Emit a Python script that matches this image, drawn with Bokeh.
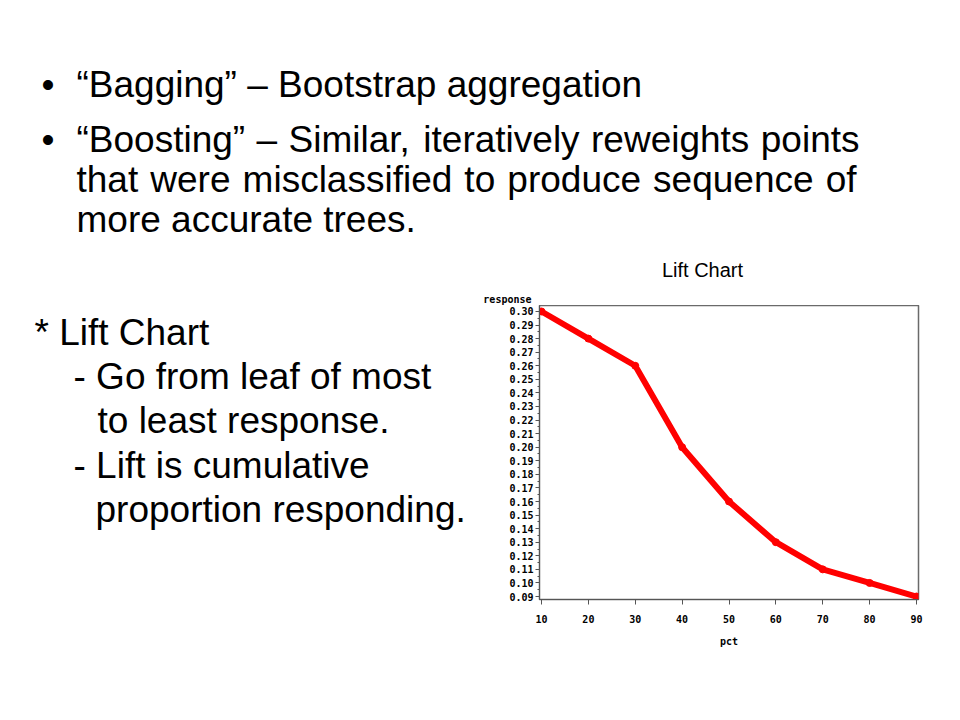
from bokeh.plotting import figure
from bokeh.models import Range1d, FixedTicker, PrintfTickFormatter, Label
from bokeh.layouts import column, row
from bokeh.embed import file_html
from bokeh.resources import INLINE

# ---- data ----
pct = [10, 20, 30, 40, 50, 60, 70, 80, 90]
response = [0.30, 0.28, 0.26, 0.20, 0.16, 0.13, 0.11, 0.10, 0.09]
x_ticks = [10, 20, 30, 40, 50, 60, 70, 80, 90]
y_ticks = [0.09, 0.10, 0.11, 0.12, 0.13, 0.14, 0.15, 0.16, 0.17, 0.18, 0.19,
           0.20, 0.21, 0.22, 0.23, 0.24, 0.25, 0.26, 0.27, 0.28, 0.29, 0.30]
y_minor = [round(v + 0.005, 3) for v in y_ticks[:-1]]

bullets = ["\u201cBagging\u201d \u2013 Bootstrap aggregation",
           "\u201cBoosting\u201d \u2013 Similar, iteratively reweights points"]
bullet_cont = ["that were misclassified to produce sequence of",
               "more accurate trees."]
side_lines = ["* Lift Chart", "- Go from leaf of most", "to least response.",
              "- Lift is cumulative", "proportion responding."]
chart_title = "Lift Chart"
y_label = "response"
x_label = "pct"

SANS = "Liberation Sans"
MONO = "DejaVu Sans Mono"

# Arial / Liberation Sans advance widths (per 1000 em) for justification
AW = {" ": 278, "\u201c": 333, "\u201d": 333, "\u2013": 556, ",": 278, ".": 278,
      "B": 667, "S": 667, "a": 556, "b": 556, "c": 500, "d": 556, "e": 556,
      "f": 278, "g": 556, "h": 556, "i": 222, "l": 222, "m": 833, "n": 556,
      "o": 556, "p": 556, "q": 556, "r": 333, "s": 500, "t": 278, "u": 556,
      "v": 500, "w": 722, "y": 500}

W, H = 944, 704
SPLIT_Y = 305   # top text panel height
SPLIT_X = 480   # width of the side-note panel
FRAME_BOTTOM = 599


def text_panel(w, h, y0, y1, bottom_border=0):
    f = figure(width=w, height=h, output_backend="svg", toolbar_location=None,
               x_axis_type=None, y_axis_type=None,
               x_range=Range1d(0, w), y_range=Range1d(y1, y0),
               min_border=0, min_border_bottom=bottom_border)
    f.outline_line_color = None
    f.grid.visible = False
    f.background_fill_color = "white"
    f.border_fill_color = "white"
    return f


def lab(f, text, px, base, size, font=SANS, style="normal", align="left"):
    # bokeh draws this baseline about 0.35em lower than the given y
    y = base - 0.35 * size
    f.add_layout(Label(x=px, y=y, text=text, text_font=font,
                       text_font_size=f"{size}px", text_font_style=style,
                       text_align=align, text_baseline="alphabetic",
                       text_color="black"))


def justify(f, text, x0, x1, base, size):
    words = text.split(" ")
    widths = [sum(AW.get(c, 556) for c in w) * size / 1000 for w in words]
    gap = (x1 - x0 - sum(widths)) / (len(words) - 1)
    x = x0
    for w, wd in zip(words, widths):
        lab(f, w, x, base, size)
        x += wd + gap


# ---- top panel: bullets, chart title, y label ----
top = text_panel(W, SPLIT_Y, 0, SPLIT_Y)
lab(top, "\u2022", 41, 97, 37)
lab(top, bullets[0], 76, 97, 37)
lab(top, "\u2022", 41, 152, 37)
justify(top, bullets[1], 76, 859, 152, 37)
justify(top, bullet_cont[0], 76, 856, 192, 37)
lab(top, bullet_cont[1], 76, 232, 37)
lab(top, chart_title, 702, 276, 20, align="center")
lab(top, y_label, 531, 302, 10, font=MONO, style="bold", align="right")

# ---- left panel: side notes (frame aligned with chart frame) ----
left = text_panel(SPLIT_X, H - SPLIT_Y, SPLIT_Y, FRAME_BOTTOM,
                  bottom_border=H - FRAME_BOTTOM)
side_pos = [(34, 345), (73, 389), (97, 433), (73, 478), (95, 522)]
for t, (sx, sy) in zip(side_lines, side_pos):
    lab(left, t, sx, sy, 37)

# ---- chart ----
p = figure(width=W - SPLIT_X, height=H - SPLIT_Y, output_backend="svg",
           toolbar_location=None,
           x_range=Range1d(9.57, 90.43), y_range=Range1d(0.0878, 0.3044),
           min_border_left=539 - SPLIT_X, min_border_right=W - 918,
           min_border_top=0, min_border_bottom=H - FRAME_BOTTOM)
p.background_fill_color = "white"
p.border_fill_color = "white"
p.outline_line_color = "#6a6a6a"
p.outline_line_width = 1.5
p.grid.visible = False

for ax in (p.xaxis[0], p.yaxis[0]):
    ax.axis_line_color = "#555555"
    ax.major_tick_line_color = "#555555"
    ax.minor_tick_line_color = "#555555"
    ax.major_tick_in = 0
    ax.minor_tick_in = 0
    ax.major_label_text_font = MONO
    ax.major_label_text_font_style = "bold"
    ax.major_label_text_font_size = "10px"
    ax.major_label_text_color = "black"

p.xaxis.ticker = FixedTicker(ticks=x_ticks)
p.xaxis.major_tick_out = 5
p.xaxis.minor_tick_out = 0
p.xaxis.major_label_standoff = 10
p.xaxis.axis_label = x_label
p.xaxis.axis_label_text_font = MONO
p.xaxis.axis_label_text_font_style = "bold"
p.xaxis.axis_label_text_font_size = "10px"
p.xaxis.axis_label_text_color = "black"
p.xaxis.axis_label_standoff = 10

p.yaxis.ticker = FixedTicker(ticks=y_ticks, minor_ticks=y_minor)
p.yaxis.formatter = PrintfTickFormatter(format="%.2f")
p.yaxis.major_tick_out = 4
p.yaxis.minor_tick_out = 2
p.yaxis.major_label_standoff = 2

p.line(pct, response, line_width=6, line_color="#ff0000", line_join="round")
p.scatter(pct, response, size=7, color="#ff0000")

layout = column(top, row(left, p, spacing=0), spacing=0)
open("out.html", "w").write(file_html(layout, INLINE))
